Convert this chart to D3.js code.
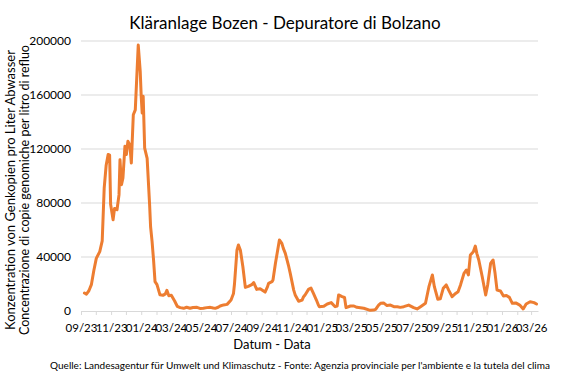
<!DOCTYPE html>
<html>
<head>
<meta charset="utf-8">
<script src="https://cdn.jsdelivr.net/npm/d3@7"></script>
<style>
  body { margin: 0; background: #fff; }
  text { font-family: Lato, "Open Sans", sans-serif; fill: #000; }
</style>
</head>
<body>
<div id="chart"></div>
<script>
// sampling dates and gene copies per litre
var dates = [
  "2023-09-08","2023-09-12","2023-09-17","2023-09-22","2023-09-27","2023-10-02","2023-10-09","2023-10-14",
  "2023-10-18","2023-10-22","2023-10-26","2023-10-29","2023-10-31","2023-11-05","2023-11-08","2023-11-13",
  "2023-11-17","2023-11-19","2023-11-22","2023-11-25","2023-11-29","2023-12-02","2023-12-05","2023-12-09",
  "2023-12-12","2023-12-16","2023-12-20","2023-12-26","2023-12-30","2024-01-01","2024-01-03","2024-01-05",
  "2024-01-08","2024-01-13","2024-01-18","2024-01-20","2024-01-23","2024-01-26","2024-01-29","2024-02-02",
  "2024-02-08","2024-02-14","2024-02-19","2024-02-22","2024-02-26","2024-03-02","2024-03-09","2024-03-14",
  "2024-03-20","2024-03-27","2024-04-02","2024-04-09","2024-04-15","2024-04-23","2024-04-29","2024-05-06",
  "2024-05-13","2024-05-20","2024-05-26","2024-05-30","2024-06-05","2024-06-09","2024-06-16","2024-06-23",
  "2024-07-01","2024-07-06","2024-07-08","2024-07-13","2024-07-16","2024-07-20","2024-07-25","2024-07-30",
  "2024-08-05","2024-08-12","2024-08-16","2024-08-22","2024-08-29","2024-09-08","2024-09-13","2024-09-15",
  "2024-09-22","2024-09-24","2024-09-29","2024-10-07","2024-10-12","2024-10-15","2024-10-19","2024-10-26",
  "2024-10-29","2024-11-05","2024-11-08","2024-11-15","2024-11-22","2024-11-25","2024-11-28","2024-12-05",
  "2024-12-10","2024-12-15","2024-12-21","2024-12-25","2024-12-27","2025-01-05","2025-01-12","2025-01-20",
  "2025-01-28","2025-02-01","2025-02-04","2025-02-11","2025-02-16","2025-02-19","2025-02-28","2025-03-07",
  "2025-03-13","2025-03-27","2025-04-09","2025-04-16","2025-04-20","2025-04-26","2025-04-30","2025-05-06",
  "2025-05-13","2025-05-20","2025-05-27","2025-06-03","2025-06-09","2025-06-16","2025-06-26","2025-07-06",
  "2025-07-13","2025-07-20","2025-07-30","2025-08-06","2025-08-13","2025-08-17","2025-08-24","2025-08-29",
  "2025-09-04","2025-09-10","2025-09-15","2025-09-22","2025-09-29","2025-10-04","2025-10-09","2025-10-16",
  "2025-10-21","2025-10-25","2025-10-29","2025-11-04","2025-11-08","2025-11-11","2025-11-15","2025-11-22",
  "2025-11-29","2025-12-03","2025-12-09","2025-12-14","2025-12-18","2025-12-22","2025-12-29","2026-01-04",
  "2026-01-10","2026-01-16","2026-01-22","2026-01-29","2026-02-06","2026-02-13","2026-02-19","2026-02-27",
  "2026-03-07","2026-03-12"
];
var values = [
  13300,12500,15000,19500,30000,39000,44000,52000,
  91000,108000,116000,115500,79000,67600,76000,75000,
  86000,112000,93500,98500,122000,116000,125700,123000,
  109600,145400,149000,197000,177500,159000,146600,159000,
  120700,113000,79000,62400,51600,37800,21700,19500,
  12000,11600,12700,15300,11300,11600,7200,3500,
  2500,2000,2800,2000,2600,2700,1900,2000,
  2500,2700,2200,2000,2800,3700,4500,4900,
  8100,13000,20000,45000,48900,45000,32800,17500,
  18200,19500,21000,16000,16500,14000,18000,20500,
  21700,23000,35300,52600,50100,46400,42700,32800,
  27900,15500,11900,7200,8100,10600,11900,16000,
  17000,13000,8100,4400,3200,3500,5200,6200,
  3200,3700,11900,10600,10000,2500,3700,3700,
  2700,2000,500,700,1200,4400,5700,6000,
  4000,4400,3200,3200,2700,3200,4400,2500,
  1500,3200,5700,18000,26700,18000,8700,9000,
  16800,19300,15500,10600,13000,14300,19300,27900,
  30400,26700,41500,43900,48100,42700,37800,25400,
  11900,19300,35300,37800,27900,15500,14800,11100,
  11500,10100,5700,6000,4400,1500,5200,6900,
  6200,5200
];
var yTicks = [0, 40000, 80000, 120000, 160000, 200000];

var title = "Kläranlage Bozen - Depuratore di Bolzano";
var yTitle1 = "Konzentration von Genkopien pro Liter Abwasser";
var yTitle2 = "Concentrazione di copie genomiche per litro di refluo";
var xTitle = "Datum - Data";
var source = "Quelle: Landesagentur für Umwelt und Klimaschutz - Fonte: Agenzia provinciale per l'ambiente e la tutela del clima";

var width = 562, height = 374;
var plotLeft = 81, plotRight = 538, plotTop = 41, plotBottom = 311;

var parse = d3.timeParse("%Y-%m-%d");
var data = dates.map(function(d, i){ return {date: parse(d), value: values[i]}; });

var svg = d3.select("#chart").append("svg")
    .attr("width", width)
    .attr("height", height)

var x = d3.scaleTime()
    .domain([new Date(2023, 8, 1), new Date(2026, 2, 15)])
    .range([plotLeft, plotRight]);
var y = d3.scaleLinear()
    .domain([0, 200000])
    .range([plotBottom, plotTop]);

// horizontal gridlines
svg.selectAll("line.grid")
    .data(yTicks.slice(1))
    .enter().append("line")
    .attr("class", "grid")
    .attr("x1", plotLeft)
    .attr("x2", plotRight)
    .attr("y1", function(d){ return y(d); })
    .attr("y2", function(d){ return y(d); })
    .style("stroke", "#d9d9d9")
    .style("stroke-width", 1)

// y labels
var yAxis = d3.axisLeft(y).tickValues(yTicks).tickSize(0).tickPadding(10).tickFormat(d3.format("d"));
var gy = svg.append("g").attr("transform", "translate(" + plotLeft + ",0)").call(yAxis);
gy.select(".domain").remove();
gy.selectAll("text").style("font-size", "12px").style("font-family", "Lato");

// x axis: monthly ticks, labels every two months
var months = d3.timeMonth.range(new Date(2023, 8, 1), new Date(2026, 2, 2));
var xAxis = d3.axisBottom(x).tickValues(months).tickSize(4).tickSizeOuter(0)
    .tickFormat(function(d){ return d.getMonth() % 2 === 0 ? d3.timeFormat("%m/%y")(d) : ""; });
var gx = svg.append("g").attr("transform", "translate(0," + plotBottom + ")").call(xAxis);
gx.select(".domain").style("stroke", "#d9d9d9");
gx.selectAll(".tick line").style("stroke", "#d9d9d9");
gx.selectAll("text").style("font-size", "11.5px").style("font-family", "Lato").attr("dy", "1.25em");

var line = d3.line()
    .x(function(d){ return x(d.date); })
    .y(function(d){ return y(d.value); });

svg.append("path")
    .datum(data)
    .attr("d", line)
    .style("fill", "none")
    .style("stroke", "#ed7d31")
    .style("stroke-width", 3)
    .style("stroke-linejoin", "round")
    .style("stroke-linecap", "round")

svg.append("text")
    .attr("x", 285).attr("y", 29)
    .attr("text-anchor", "middle")
    .style("font-size", "17px")
    .text(title)

svg.append("text")
    .attr("transform", "translate(15,190) rotate(-90)")
    .attr("text-anchor", "middle")
    .style("font-size", "13px")
    .text(yTitle1)

svg.append("text")
    .attr("transform", "translate(29,190) rotate(-90)")
    .attr("text-anchor", "middle")
    .style("font-size", "12.5px")
    .text(yTitle2)

svg.append("text")
    .attr("x", 272).attr("y", 349)
    .attr("text-anchor", "middle")
    .style("font-size", "13px")
    .text(xTitle)

svg.append("text")
    .attr("x", 300).attr("y", 369)
    .attr("text-anchor", "middle")
    .style("font-size", "10px")
    .text(source)
</script>
</body>
</html>
